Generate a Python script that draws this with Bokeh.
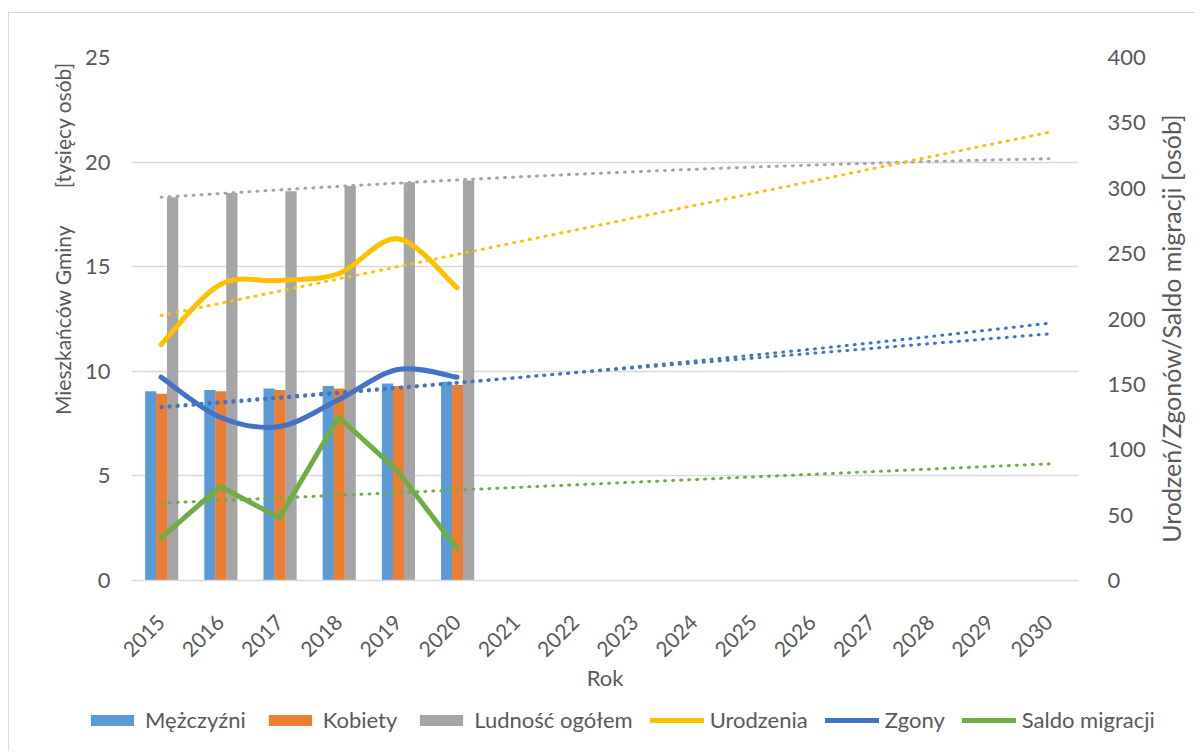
import numpy as np
from math import pi
from bokeh.plotting import figure
from bokeh.layouts import column, row
from bokeh.models import (Range1d, LinearAxis, FixedTicker, Legend, LegendItem,
                          Label, ColumnDataSource)
from bokeh.transform import dodge
from bokeh.embed import file_html
from bokeh.resources import INLINE

# ---- data ----
axis_years = list(range(2015, 2031))
years = [2015, 2016, 2017, 2018, 2019, 2020]
men = [9.05, 9.11, 9.18, 9.30, 9.42, 9.50]          # tys. osób
women = [8.93, 9.05, 9.11, 9.18, 9.30, 9.35]        # tys. osób
total = [18.32, 18.52, 18.61, 18.86, 19.04, 19.12]  # tys. osób
births = [180.5, 226.4, 229.4, 234.6, 261.3, 223.9]  # osób
deaths = [155.5, 124.9, 117.8, 138.2, 161.4, 155.5]  # osób
migration = [32.6, 71.9, 47.9, 124.9, 83.6, 24.2]    # osób

left_ticks = [0, 5, 10, 15, 20, 25]
right_ticks = [0, 50, 100, 150, 200, 250, 300, 350, 400]

labels = ["Mężczyźni", "Kobiety", "Ludność ogółem", "Urodzenia", "Zgony", "Saldo migracji"]
left_title = "Mieszkańców Gminy" + "\u00a0" * 7 + "[tysięcy osób]"
right_title = "Urodzeń/Zgonów/Saldo migracji [osób]"
x_title = "Rok"

FONT = "Lato"
FS = "22px"
TXT = "#595959"
GRID = "#D9D9D9"
C_MEN, C_WOMEN, C_TOTAL = "#5B9BD5", "#ED7D31", "#A5A5A5"
C_BIRTH, C_DEATH, C_MIGR = "#FFC000", "#4472C4", "#70AD47"

MAIN_H = 687


def blank_fig(w, h):
    f = figure(width=w, height=h, output_backend="svg", toolbar_location=None,
               x_axis_type=None, y_axis_type=None, min_border=0,
               x_range=Range1d(0, 1), y_range=Range1d(0, 1))
    f.outline_line_color = None
    return f


# ---------------- main chart ----------------
p = figure(width=1073, height=MAIN_H, output_backend="svg", toolbar_location=None,
           x_range=Range1d(2014.5, 2030.5), y_range=Range1d(0, 25),
           min_border_left=52, min_border_right=74, min_border_top=44,
           min_border_bottom=120)
p.outline_line_color = None
p.extra_y_ranges = {"right": Range1d(0, 400)}

p.xaxis.ticker = FixedTicker(ticks=axis_years)
p.xaxis.major_label_orientation = pi / 4
p.xaxis.axis_line_color = GRID
p.xaxis.axis_line_width = 1.5
p.xaxis.major_tick_line_color = None
p.xaxis.minor_tick_line_color = None
p.xaxis.major_tick_out = 0
p.xaxis.major_tick_in = 0
p.xaxis.major_label_text_font = FONT
p.xaxis.major_label_text_font_size = "21px"
p.xaxis.major_label_text_color = TXT
p.xaxis.major_label_standoff = 38
p.xaxis.axis_label = x_title
p.xaxis.axis_label_text_font = FONT
p.xaxis.axis_label_text_font_size = FS
p.xaxis.axis_label_text_font_style = "normal"
p.xaxis.axis_label_text_color = TXT
p.xaxis.axis_label_standoff = -3

p.yaxis.ticker = FixedTicker(ticks=left_ticks)
p.yaxis.axis_line_color = None
p.yaxis.major_tick_line_color = None
p.yaxis.minor_tick_line_color = None
p.yaxis.major_tick_out = 0
p.yaxis.major_tick_in = 0
p.yaxis.major_label_text_font = FONT
p.yaxis.major_label_text_font_size = FS
p.yaxis.major_label_text_color = TXT
p.yaxis.major_label_standoff = 21

ra = LinearAxis(y_range_name="right", ticker=FixedTicker(ticks=right_ticks))
ra.axis_line_color = None
ra.major_tick_line_color = None
ra.minor_tick_line_color = None
ra.major_tick_out = 0
ra.major_tick_in = 0
ra.major_label_text_font = FONT
ra.major_label_text_font_size = FS
ra.major_label_text_color = TXT
ra.major_label_standoff = 29
p.add_layout(ra, "right")

p.xgrid.grid_line_color = None
p.ygrid.grid_line_color = GRID
p.ygrid.grid_line_width = 1.5

# bars
src = ColumnDataSource(dict(year=years, men=men, women=women, total=total))
bw = 0.19
p.vbar(x=dodge("year", -0.175, range=p.x_range), top="men", width=bw,
       source=src, fill_color=C_MEN, line_color=None)
p.vbar(x=dodge("year", 0.01, range=p.x_range), top="women", width=bw,
       source=src, fill_color=C_WOMEN, line_color=None)
p.vbar(x=dodge("year", 0.195, range=p.x_range), top="total", width=bw,
       source=src, fill_color=C_TOTAL, line_color=None)

# trend lines (regressions of the data, extended to 2030)
idx = np.arange(len(years))
ev = np.linspace(0, len(axis_years) - 1, 61)
ev_years = years[0] + ev
tr_total = np.polyval(np.polyfit(idx, total, 2), ev)
tr_births = np.polyval(np.polyfit(idx, births, 1), ev)
tr_deaths = np.polyval(np.polyfit(idx, deaths, 1), ev)
tr_deaths_exp = np.exp(np.polyval(np.polyfit(idx, np.log(deaths), 1), ev))
tr_migr = np.polyval(np.polyfit(idx, migration, 1), ev)

dot = dict(line_width=3, line_dash="1 7", line_cap="round")
p.line(ev_years, tr_total, line_color=C_TOTAL, **dot)
p.line(ev_years, tr_births, line_color=C_BIRTH, y_range_name="right", **dot)
p.line(ev_years, tr_deaths, line_color=C_DEATH, y_range_name="right", **dot)
p.line(ev_years, tr_deaths_exp, line_color=C_DEATH, y_range_name="right", **dot)
p.line(ev_years, tr_migr, line_color=C_MIGR, y_range_name="right", **dot)


def smooth_segments(xs, ys):
    xs = np.asarray(xs, float)
    ys = np.asarray(ys, float)
    n = len(xs)
    out = dict(x0=[], y0=[], x1=[], y1=[], cx0=[], cy0=[], cx1=[], cy1=[])
    for i in range(n - 1):
        pr = i - 1 if i > 0 else i
        nx = i + 2 if i + 2 < n else i + 1
        out["x0"].append(xs[i]); out["y0"].append(ys[i])
        out["x1"].append(xs[i + 1]); out["y1"].append(ys[i + 1])
        out["cx0"].append(xs[i] + (xs[i + 1] - xs[pr]) / 6)
        out["cy0"].append(ys[i] + (ys[i + 1] - ys[pr]) / 6)
        out["cx1"].append(xs[i + 1] - (xs[nx] - xs[i]) / 6)
        out["cy1"].append(ys[i + 1] - (ys[nx] - ys[i]) / 6)
    return ColumnDataSource(out)


bz = dict(x0="x0", y0="y0", x1="x1", y1="y1", cx0="cx0", cy0="cy0", cx1="cx1", cy1="cy1")
p.bezier(source=smooth_segments(years, births), line_color=C_BIRTH,
         line_width=5, line_cap="round", y_range_name="right", **bz)
p.bezier(source=smooth_segments(years, deaths), line_color=C_DEATH,
         line_width=5, line_cap="round", y_range_name="right", **bz)
p.line(years, migration, line_color=C_MIGR, line_width=5, line_cap="round",
       line_join="round", y_range_name="right")

# ---------------- axis titles (frames are aligned with the main plot frame) ----------------
lf = blank_fig(70, MAIN_H)
lf.add_layout(Label(x=53, y=342, x_units="screen", y_units="screen", angle=pi / 2,
                    text=left_title, text_align="center", text_baseline="middle",
                    text_font=FONT, text_font_size="21px", text_color=TXT))
rf = blank_fig(43, MAIN_H)
rf.add_layout(Label(x=18, y=252, x_units="screen", y_units="screen", angle=pi / 2,
                    text=right_title, text_align="center", text_baseline="middle",
                    text_font=FONT, text_font_size="25px", text_color=TXT))

# ---------------- legend ----------------
# legend-only renderers: they use the real data but lie outside this strip's ranges
lg = blank_fig(1186, 51)
items = [
    LegendItem(label=labels[0], renderers=[lg.vbar(x=years, top=men, width=0.2, fill_color=C_MEN, line_color=None)]),
    LegendItem(label=labels[1], renderers=[lg.vbar(x=years, top=women, width=0.2, fill_color=C_WOMEN, line_color=None)]),
    LegendItem(label=labels[2], renderers=[lg.vbar(x=years, top=total, width=0.2, fill_color=C_TOTAL, line_color=None)]),
    LegendItem(label=labels[3], renderers=[lg.line(x=years, y=births, line_color=C_BIRTH, line_width=5, line_cap="round")]),
    LegendItem(label=labels[4], renderers=[lg.line(x=years, y=deaths, line_color=C_DEATH, line_width=5, line_cap="round")]),
    LegendItem(label=labels[5], renderers=[lg.line(x=years, y=migration, line_color=C_MIGR, line_width=5, line_cap="round")]),
]
legend = Legend(items=items, orientation="horizontal", location=(76, 18))
legend.border_line_color = None
legend.background_fill_alpha = 0
legend.label_text_font = FONT
legend.label_text_font_size = FS
legend.label_text_color = TXT
legend.glyph_width = 54
legend.glyph_height = 14
legend.label_standoff = 6
legend.spacing = 17
legend.padding = 4
legend.margin = 0
lg.add_layout(legend)

layout = column(row(lf, p, rf), lg)
layout.styles = {"border-left": "1px solid #D9D9D9", "border-top": "1px solid #D9D9D9",
                 "margin-top": "12px", "margin-left": "8px"}

open("out.html", "w").write(file_html(layout, INLINE))
